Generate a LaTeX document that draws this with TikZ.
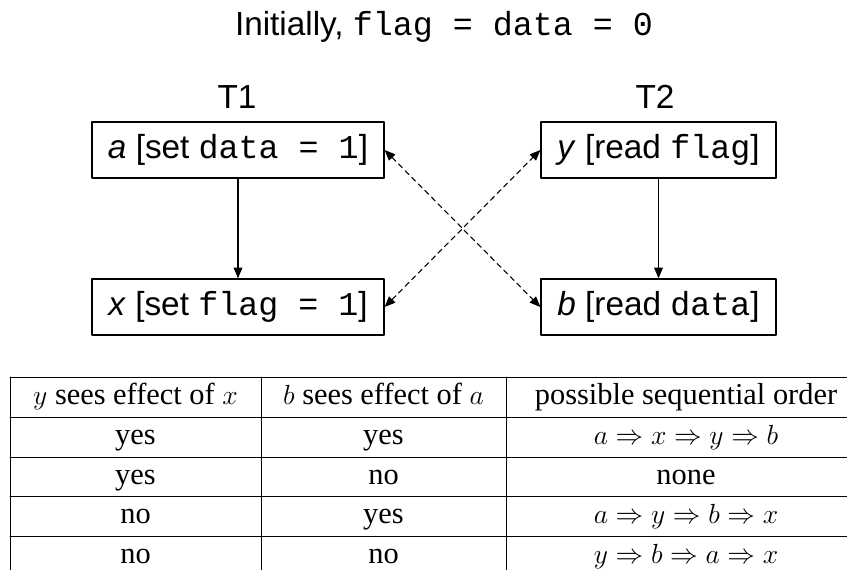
\documentclass[tikz,border=0pt]{standalone}
\usepackage{fontspec}
\setmainfont{Liberation Sans}
\setmonofont{Liberation Mono}
\newfontfamily\tabfont{Liberation Serif}
\usetikzlibrary{arrows.meta}

\begin{document}
\begin{tikzpicture}[x=0.75pt, y=-0.75pt, >={Triangle[length=8pt,width=6.5pt]}, line cap=round, line join=round]

    % Stili
    \tikzset{box/.style={draw, line width=1pt, rectangle, minimum height=42pt, inner sep=0pt, font=\fontsize{25}{29}\selectfont},
             lbl/.style={font=\fontsize{25}{29}\selectfont},
             cell/.style={anchor=base, inner sep=0pt, font=\tabfont\fontsize{22.8}{26}\selectfont}}

    \useasboundingbox (0,0) rectangle (847,569);
    \clip (0,0) rectangle (847,569);

    % Titolo
    \node[lbl] (title) at (444,27) {Initially, \texttt{flag = data = 0}};

    % Thread
    \node[lbl] (t1) at (237,97) {T1};
    \node[lbl] (t2) at (655,97) {T2};

    \node[box, minimum width=219pt] (a) at (238,150) {\textit{a} [set \texttt{data = 1}]};
    \node[box, minimum width=219pt] (x) at (238,307) {\textit{x} [set \texttt{flag = 1}]};
    \node[box, minimum width=176.25pt] (y) at (658.5,150) {\textit{y} [read \texttt{flag}]};
    \node[box, minimum width=176.25pt] (b) at (658.5,307) {\textit{b} [read \texttt{data}]};

    % Ordine di programma
    \draw[->, line width=0.8pt] (a) -- (x);
    \draw[->, line width=0.8pt] (y) -- (b);

    % Frecce tratteggiate
    \draw[<->, line width=0.8pt, dash pattern=on 4pt off 3pt] (a.east) -- (b.west);
    \draw[<->, line width=0.8pt, dash pattern=on 4pt off 3pt] (x.east) -- (y.west);

    % Tabella
    \foreach \ry in {377,417,457,496,536,576}
        \draw[line width=0.6pt] (10,\ry) -- (866,\ry);
    \foreach \cx in {10,261,506,866}
        \draw[line width=0.6pt] (\cx,377) -- (\cx,576);

    \node[cell] (h1) at (135.5,404.5) {$y$ sees effect of $x$};
    \node[cell] (h2) at (383.5,404.5) {$b$ sees effect of $a$};
    \node[cell] (h3) at (686,404.5) {possible sequential order};

    \node[cell] (r1c1) at (135.5,444.5) {yes};
    \node[cell] (r1c2) at (383.5,444.5) {yes};
    \node[cell] (r1c3) at (686,444.5) {$a\Rightarrow x\Rightarrow y\Rightarrow b$};

    \node[cell] (r2c1) at (135.5,484) {yes};
    \node[cell] (r2c2) at (383.5,484) {no};
    \node[cell] (r2c3) at (686,484) {none};

    \node[cell] (r3c1) at (135.5,523.5) {no};
    \node[cell] (r3c2) at (383.5,523.5) {yes};
    \node[cell] (r3c3) at (686,523.5) {$a\Rightarrow y\Rightarrow b\Rightarrow x$};

    \node[cell] (r4c1) at (135.5,563.5) {no};
    \node[cell] (r4c2) at (383.5,563.5) {no};
    \node[cell] (r4c3) at (686,563.5) {$y\Rightarrow b\Rightarrow a\Rightarrow x$};

\end{tikzpicture}
\end{document}
